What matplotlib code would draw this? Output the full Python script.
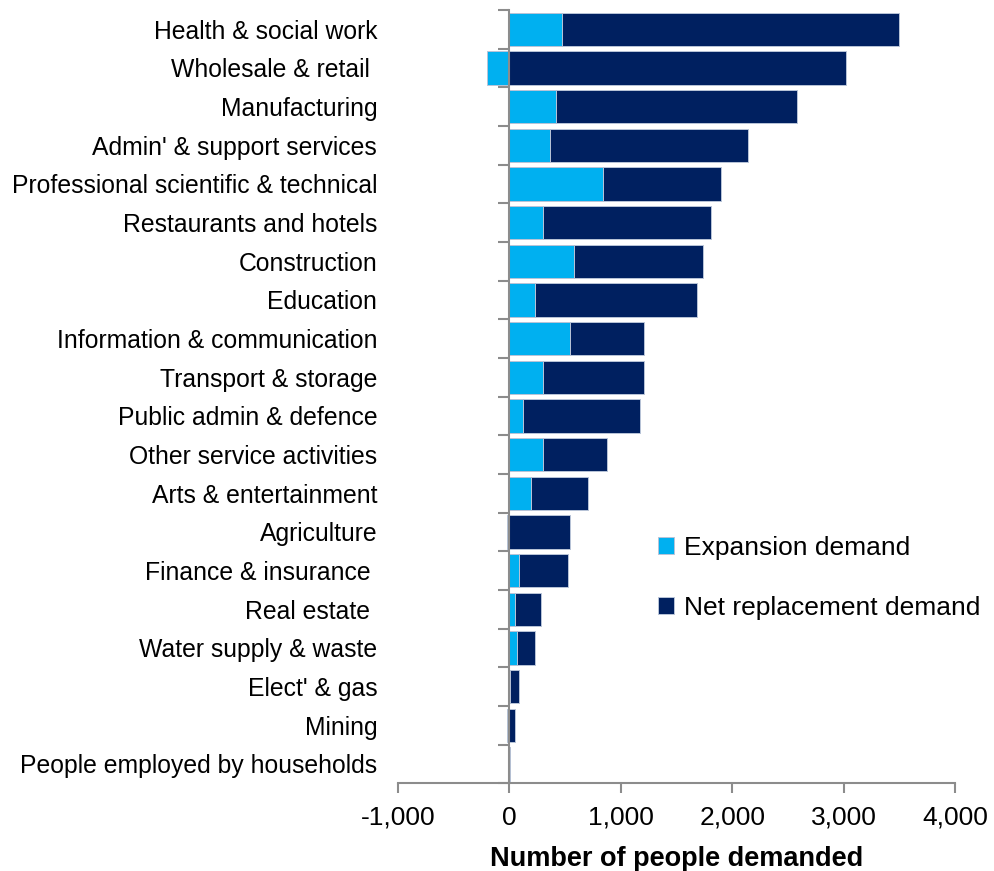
import matplotlib
matplotlib.use('Agg')
import matplotlib.pyplot as plt
import numpy as np

categories = [
    "Health & social work",
    "Wholesale & retail ",
    "Manufacturing",
    "Admin' & support services",
    "Professional scientific & technical",
    "Restaurants and hotels",
    "Construction",
    "Education",
    "Information & communication",
    "Transport & storage",
    "Public admin & defence",
    "Other service activities",
    "Arts & entertainment",
    "Agriculture",
    "Finance & insurance ",
    "Real estate ",
    "Water supply & waste",
    "Elect' & gas",
    "Mining",
    "People employed by households",
]
expansion = [475, -205, 420, 362, 840, 306, 584, 234, 546, 306, 126, 306, 198, -22, 90, 51, 69, 8, -24, -3]
net_replacement = [3020, 3020, 2160, 1777, 1060, 1503, 1154, 1447, 658, 898, 1043, 569, 512, 546, 437, 237, 165, 80, 51, 8]
xticks = [-1000, 0, 1000, 2000, 3000, 4000]
xticklabels = ["-1,000", "0", "1,000", "2,000", "3,000", "4,000"]

plt.rcParams['font.family'] = ['Liberation Sans', 'DejaVu Sans']

W, H = 994, 871
fig = plt.figure(figsize=(W / 100, H / 100), dpi=100)
x0, x1 = 398, 955
ytop, ybot = 10, 783.3
ax = fig.add_axes([x0 / W, 1 - ybot / H, (x1 - x0) / W, (ybot - ytop) / H])

y = np.arange(len(categories))
exp = np.array(expansion, dtype=float)
net = np.array(net_replacement, dtype=float)
left_net = np.maximum(exp, 0)

light = '#00B0F0'
dark = '#002060'
edge = '#B8C4D8'
ax.barh(y, exp, height=0.86, color=light, edgecolor=edge, linewidth=0.7,
        label='Expansion demand', zorder=2)
ax.barh(y, net, left=left_net, height=0.86, color=dark, edgecolor=edge,
        linewidth=0.7, label='Net replacement demand', zorder=2)

ax.set_xlim(-1000, 4000)
ax.set_ylim(len(categories) - 0.5, -0.5)

axis_color = '#8C8C8C'
for s in ['top', 'right', 'left']:
    ax.spines[s].set_visible(False)
ax.spines['bottom'].set_color(axis_color)
ax.spines['bottom'].set_linewidth(1.5)

ax.set_xticks(xticks)
ax.set_xticklabels(xticklabels, fontsize=19)
ax.tick_params(axis='x', direction='out', length=7, width=1.5, color=axis_color, pad=9)

# category labels at left
ax.set_yticks(y)
ax.set_yticklabels(categories, fontsize=17.8)
ax.tick_params(axis='y', length=0, pad=15)

# vertical axis at x = 0 with boundary ticks
sec = ax.secondary_yaxis(1000 / 5000)
sec.spines['left'].set_color(axis_color)
sec.spines['left'].set_linewidth(1.5)
sec.set_yticks(np.arange(len(categories) + 1) - 0.5)
sec.set_yticklabels([])
sec.tick_params(axis='y', direction='out', length=8, width=1.5, color=axis_color)
sec.set_zorder(3)

ax.set_xlabel('Number of people demanded', fontsize=19.5, fontweight='bold', labelpad=12)

fig.legend(loc='upper left', bbox_to_anchor=(658 / W, 1 - 536 / H), frameon=False,
           fontsize=19, handlelength=0.6, handleheight=0.6, handletextpad=0.4,
           labelspacing=1.35, borderpad=0, borderaxespad=0)

fig.savefig('out.png', dpi=100)
